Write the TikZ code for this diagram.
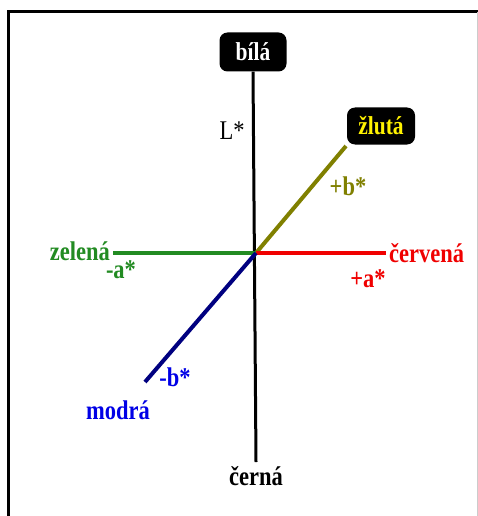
\documentclass[tikz,border=0pt]{standalone}
\usepackage{fontspec}
\setmainfont{Liberation Serif}
\definecolor{labgreen}{RGB}{34,139,34}
\definecolor{labolive}{RGB}{128,128,0}
\definecolor{labnavy}{RGB}{0,0,128}
\definecolor{labblue}{RGB}{0,0,230}
\definecolor{labred}{RGB}{240,0,0}
\newcommand{\labtall}[1]{\scalebox{1}[1.2]{#1}}
\begin{document}
\begin{tikzpicture}[x=1pt,y=-1pt,
  lbl/.style={font=\bfseries\fontsize{22.5}{22.5}\selectfont, inner sep=0pt},
  blackbox/.style={fill=black, rounded corners=8pt, minimum width=67pt, minimum height=39pt, inner sep=0pt, font=\bfseries\fontsize{21.5}{21.5}\selectfont},
  axis/.style={line width=3pt},
  coloraxis/.style={line width=4pt}]
\useasboundingbox (0,0) rectangle (478,516);
\fill[white] (0,0) rectangle (478,516);
% frame
\draw[line width=3pt] (8,520) -- (8,12) -- (480,12);
\draw[line width=1pt, gray!40] (477,12) -- (477,516);
% nodes
\coordinate (o) at (256,253);
\node[blackbox, text=white] (white) at (253,52) {\labtall{bílá}};
\node[blackbox, text=yellow, minimum width=68pt, minimum height=37pt] (yellow) at (381,126) {\labtall{žlutá}};
\node[lbl] (black) at (256,476) {\labtall{černá}};
\node[lbl, text=labred, anchor=west] (red) at (389,253) {\labtall{červená}};
\node[lbl, text=labgreen, anchor=east] (green) at (110,251) {\labtall{zelená}};
\node[lbl, text=labblue] (blue) at (118,410) {\labtall{modrá}};
\coordinate (yend) at (346,146);
\coordinate (bend) at (145,382);
\coordinate (bot) at (256,462);
\coordinate (rend) at (386,253);
\coordinate (gend) at (113,253);
% axes
\draw[axis] (white.south) -- (bot);
\draw[coloraxis, labolive] (o) -- (yend);
\draw[coloraxis, labred] (o) -- (rend);
\draw[coloraxis, labgreen] (o) -- (gend);
\draw[coloraxis, labnavy] (o) -- (bend);
% axis labels
\node[font=\fontsize{22.5}{22.5}\selectfont, inner sep=0pt] (L) at (232,131) {\labtall{L*}};
\node[lbl, text=labolive] (pb) at (348,186) {\labtall{+b*}};
\node[lbl, text=labred] (pa) at (368,279) {\labtall{+a*}};
\node[lbl, text=labgreen] (ma) at (121,270) {\labtall{-a*}};
\node[lbl, text=labblue] (mb) at (175,377) {\labtall{-b*}};
\end{tikzpicture}
\end{document}
